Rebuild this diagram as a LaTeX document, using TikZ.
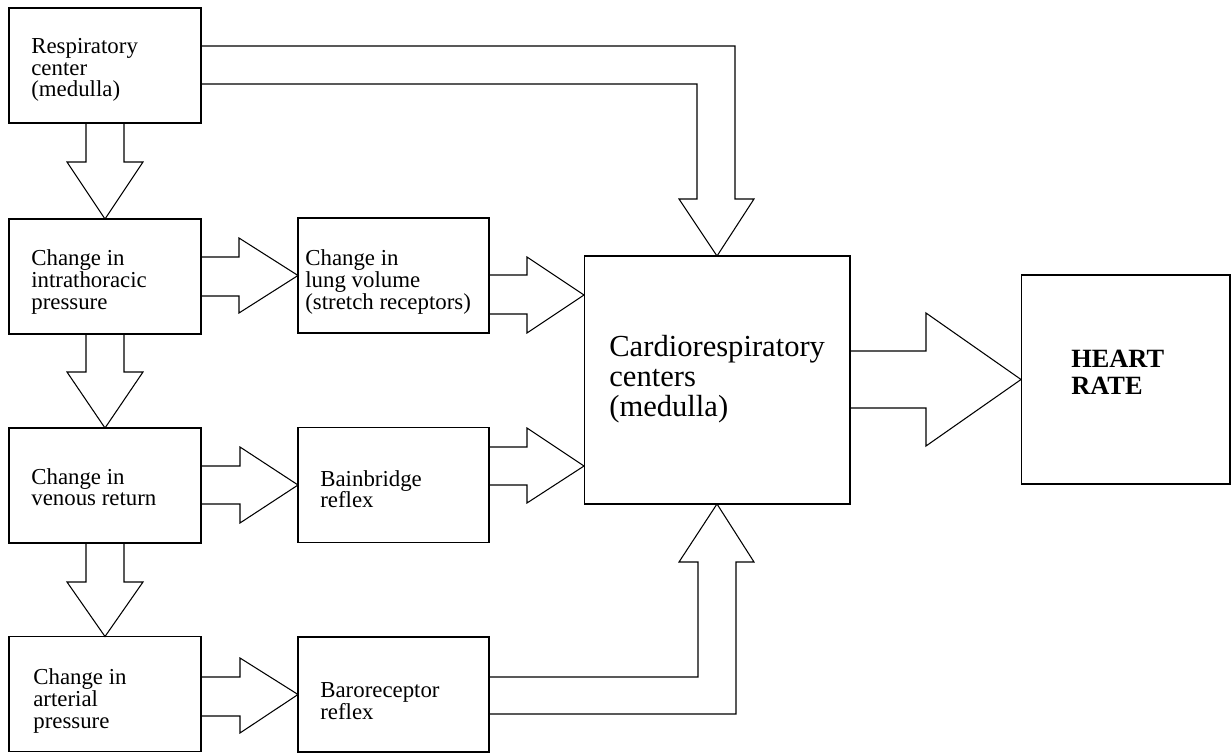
\documentclass[tikz,border=0pt]{standalone}
\usepackage{fontspec}
\setmainfont{Liberation Serif}
\begin{document}
\begin{tikzpicture}[x=0.02cm,y=-0.02cm]
\tikzstyle{box}=[rectangle, draw, inner sep=0, outer sep=0, line width=.6pt]
\tikzstyle{side_box}=[box, minimum width=3.84cm, minimum height=2.3cm]
\tikzstyle{reflex_box}=[box, minimum width=3.82cm, minimum height=2.3cm]
\tikzstyle{box_text}=[anchor=west, align=left, inner sep=0, font=\fontsize{13}{12.3}\selectfont]
\tikzstyle{block_arrow}=[draw, line width=.6pt, line join=miter]
\useasboundingbox (0,0) rectangle (1231,753);
\coordinate (resp_c) at (105,65.5);
\coordinate (icp_c) at (105,276.5);
\coordinate (venous_c) at (105,485.5);
\coordinate (art_c) at (105,694);
\coordinate (lung_c) at (393.5,275.5);
\coordinate (bain_c) at (393.5,485);
\coordinate (baro_c) at (393.5,694.5);
\coordinate (cardio_c) at (717,380);
\coordinate (heart_c) at (1125.5,379.5);
\node (resp) at (resp_c) [side_box] {};
\node (icp) at (icp_c) [side_box] {};
\node (venous) at (venous_c) [side_box] {};
\node (art) at (art_c) [side_box] {};
\node (lung) at (lung_c) [reflex_box] {};
\node (bain) at (bain_c) [reflex_box] {};
\node (baro) at (baro_c) [reflex_box] {};
\node (cardio) at (cardio_c) [box, minimum width=5.32cm, minimum height=4.96cm] {};
\node (heart) at (heart_c) [box, minimum width=4.18cm, minimum height=4.18cm] {};
\node (resp_label) at (31,70) [box_text] {Respiratory\\center\\(medulla)};
\node (icp_label) at (31,282) [box_text] {Change in\\intrathoracic\\pressure};
\node (lung_label) at (305,282) [box_text] {Change in\\lung volume\\(stretch receptors)};
\node (venous_label) at (31,487) [box_text] {Change in\\venous return};
\node (bain_label) at (320,489) [box_text] {Bainbridge\\reflex};
\node (art_label) at (33,701) [box_text] {Change in\\arterial\\pressure};
\node (baro_label) at (320,701) [box_text] {Baroreceptor\\reflex};
\node (cardio_label) at (609,379) [box_text, font=\fontsize{17.4}{17.1}\selectfont] {Cardiorespiratory\\centers\\(medulla)};
\node (heart_label) at (1071,372) [box_text, font=\fontsize{15}{15.4}\selectfont\bfseries] {HEART\\RATE};
\path (resp.east |- 0,46) -- (735,46) -- (735,199) -- (754,199) -- (cardio.north) -- (679,199) -- (697,199) -- (697,84) -- (resp.east |- 0,84) [block_arrow];
\path (resp.south -| 86,0) -- (86,162) -- (67,162) -- (icp.north) -- (143,162) -- (124,162) -- (resp.south -| 124,0) [block_arrow];
\path (icp.east |- 0,257) -- (239,257) -- (239,238) -- (lung.west) -- (239,313) -- (239,296) -- (icp.east |- 0,296) [block_arrow];
\path (lung.east |- 0,275) -- (527,275) -- (527,257) -- (cardio.west |- 0,295) -- (527,333) -- (527,314) -- (lung.east |- 0,314) [block_arrow];
\path (icp.south -| 86,0) -- (86,372) -- (67,372) -- (venous.north) -- (143,372) -- (124,372) -- (icp.south -| 124,0) [block_arrow];
\path (venous.east |- 0,466) -- (240,466) -- (240,447) -- (bain.west) -- (240,523) -- (240,504) -- (venous.east |- 0,504) [block_arrow];
\path (bain.east |- 0,447) -- (527,447) -- (527,428) -- (cardio.west |- 0,466) -- (527,503) -- (527,485) -- (bain.east |- 0,485) [block_arrow];
\path (venous.south -| 86,0) -- (86,582) -- (67,582) -- (art.north) -- (143,582) -- (124,582) -- (venous.south -| 124,0) [block_arrow];
\path (art.east |- 0,677) -- (240,677) -- (240,658) -- (baro.west) -- (240,733) -- (240,716) -- (art.east |- 0,716) [block_arrow];
\path (baro.east |- 0,677) -- (698,677) -- (698,562) -- (679,562) -- (cardio.south) -- (754,562) -- (736,562) -- (736,714) -- (baro.east |- 0,714) [block_arrow];
\path (cardio.east |- 0,351) -- (926,351) -- (926,313) -- (heart.west) -- (926,446) -- (926,408) -- (cardio.east |- 0,408) [block_arrow];
\end{tikzpicture}
\end{document}
